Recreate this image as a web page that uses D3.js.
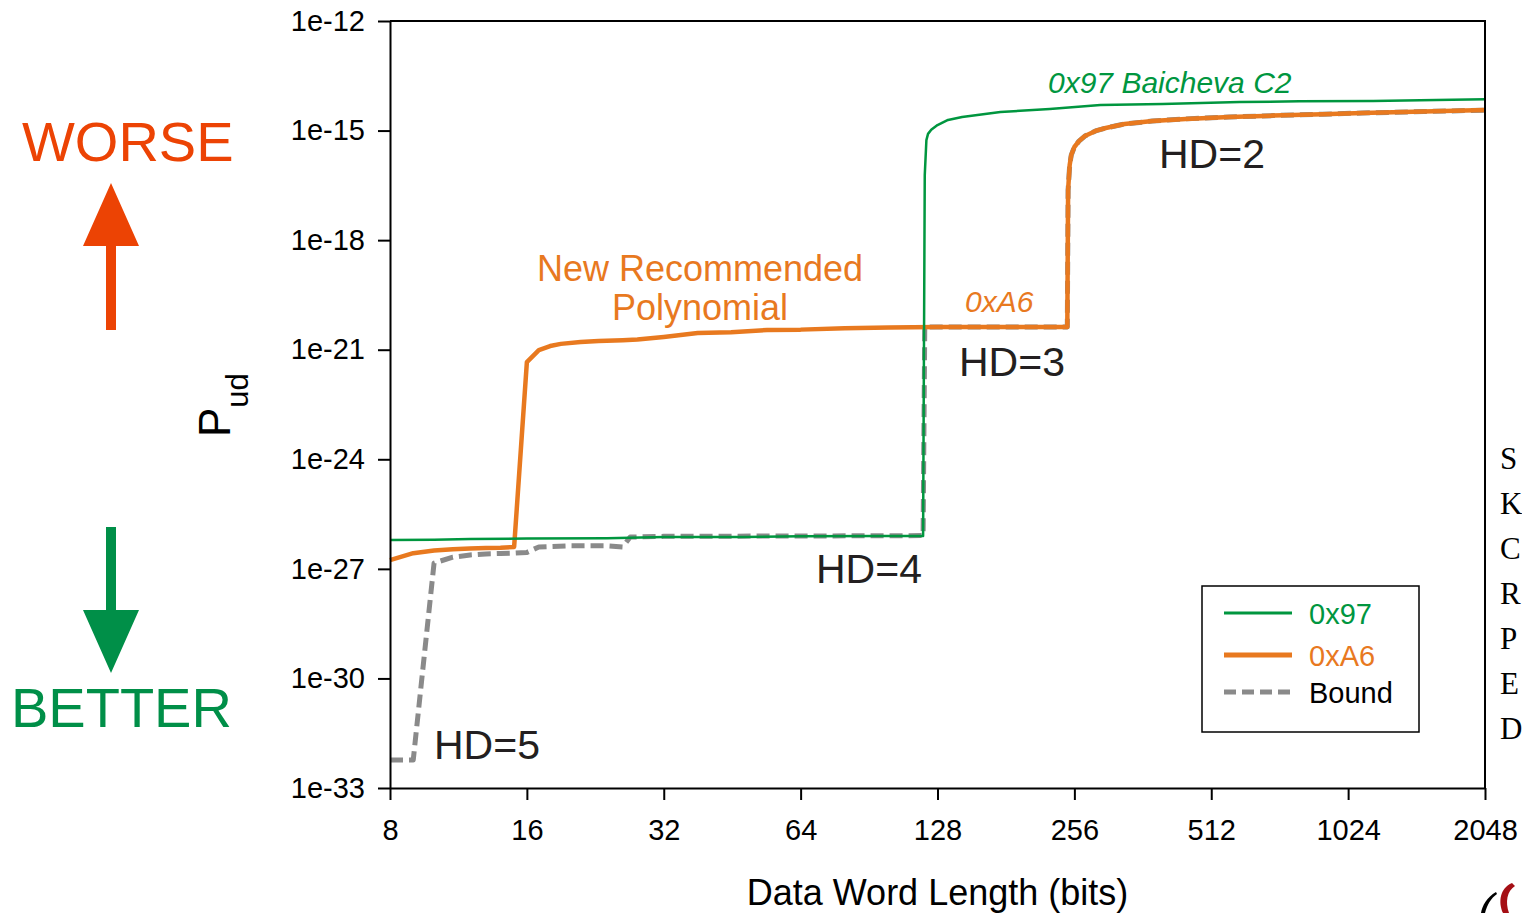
<!DOCTYPE html>
<html>
<head>
<meta charset="utf-8">
<script src="https://cdn.jsdelivr.net/npm/d3@7/dist/d3.min.js"></script>
<style>
  html, body { margin: 0; padding: 0; background: #fff; overflow: hidden; }
  svg { display: block; font-family: "Liberation Sans", Arial, Helvetica, sans-serif; }
</style>
</head>
<body>
<svg id="chart" width="1522" height="913"></svg>
<script>
// ---- Data: data word length (bits) vs. log10 of undetected error probability ----

// 0x97 (Baicheva C2)
const lenX97 = [8, 10, 12, 16, 24, 32, 48, 64, 96, 119,
                120, 121, 122, 124, 128, 135, 145, 176, 226, 292, 400, 591, 800, 1162, 1600, 2048];
const logPudX97 = [-26.21, -26.20, -26.18, -26.17, -26.16, -26.13, -26.13, -26.11, -26.10, -26.10,
                   -16.22, -15.26, -15.09, -14.98, -14.85, -14.71, -14.63, -14.49, -14.41, -14.30, -14.27, -14.22, -14.20, -14.19, -14.16, -14.14];

// 0xA6 (new recommended polynomial)
const lenXA6 = [8, 9, 10, 11, 12, 13, 14, 15,
                16, 17, 18, 19, 21, 23, 26, 28, 32, 38, 45, 54, 64, 80, 100, 128, 180, 247,
                248, 250, 252, 256, 262, 270, 285, 300, 330, 380, 450, 560, 700, 900, 1100, 1500, 2048];
const logPudXA6 = [-26.76, -26.57, -26.50, -26.46, -26.44, -26.43, -26.42, -26.40,
                   -21.34, -21.01, -20.90, -20.84, -20.79, -20.76, -20.74, -20.72, -20.65, -20.54, -20.52, -20.46, -20.45, -20.41, -20.39, -20.38, -20.38, -20.38,
                   -16.63, -15.94, -15.67, -15.45, -15.29, -15.15, -15.01, -14.93, -14.82, -14.74, -14.68, -14.63, -14.59, -14.55, -14.52, -14.48, -14.44];

// Best achievable bound over all 8-bit polynomials
const lenBound = [8, 9, 10, 11, 12, 13, 14, 15, 16, 17, 20, 24, 26, 27, 32, 64, 119,
                  120, 247,
                  248, 250, 252, 256, 262, 270, 285, 300, 330, 380, 450, 560, 700, 900, 1100, 1500, 2048];
const logPudBound = [-32.23, -32.23, -26.84, -26.68, -26.62, -26.59, -26.58, -26.57, -26.55, -26.40, -26.37, -26.37, -26.40, -26.13, -26.11, -26.10, -26.09,
                     -20.38, -20.38,
                     -16.63, -15.94, -15.67, -15.45, -15.29, -15.15, -15.01, -14.93, -14.82, -14.74, -14.68, -14.63, -14.59, -14.55, -14.52, -14.48, -14.44];

// Axis ticks
const xTicks = [8, 16, 32, 64, 128, 256, 512, 1024, 2048];
const xTickLabels = ["8", "16", "32", "64", "128", "256", "512", "1024", "2048"];
const yTicks = [1e-12, 1e-15, 1e-18, 1e-21, 1e-24, 1e-27, 1e-30, 1e-33];
const yTickLabels = ["1e-12", "1e-15", "1e-18", "1e-21", "1e-24", "1e-27", "1e-30", "1e-33"];

// ---- Layout & scales ----
const plot = { left: 390, right: 1485, top: 21, bottom: 788 };
const GREEN = "#00963f", ORANGE = "#e8791f", GRAY = "#8a8a8a", DARK = "#231f20";

const svg = d3.select("#chart");
const x = d3.scaleLog().base(2).domain([8, 2048]).range([plot.left, plot.right]);
const y = d3.scaleLog().domain([1e-33, 1e-12]).range([plot.bottom, plot.top]);

const series = [
  { name: "Bound", len: lenBound, logp: logPudBound, color: GRAY,   width: 5,   dash: "13,6", label: "#000" },
  { name: "0xA6",  len: lenXA6,   logp: logPudXA6,   color: ORANGE, width: 4.5, dash: null,   label: ORANGE },
  { name: "0x97",  len: lenX97,   logp: logPudX97,   color: GREEN,  width: 2.5, dash: null,   label: GREEN }
];

const line = d3.line()
  .x(d => x(d[0]))
  .y(d => y(Math.pow(10, d[1])));

// ---- Series lines ----
svg.append("g").selectAll("path")
  .data(series)
  .join("path")
  .attr("d", s => line(s.len.map((n, i) => [n, s.logp[i]])))
  .attr("fill", "none")
  .attr("stroke", s => s.color)
  .attr("stroke-width", s => s.width)
  .attr("stroke-dasharray", s => s.dash)
  .attr("stroke-linejoin", "round");

// ---- Axes ----
const xAxis = svg.append("g")
  .attr("transform", `translate(0,${plot.bottom})`)
  .call(d3.axisBottom(x).tickValues(xTicks).tickFormat((d, i) => xTickLabels[i])
        .tickSize(12).tickSizeOuter(0).tickPadding(19));
const yAxis = svg.append("g")
  .attr("transform", `translate(${plot.left},0)`)
  .call(d3.axisLeft(y).tickValues(yTicks).tickFormat((d, i) => yTickLabels[i])
        .tickSize(12).tickSizeOuter(0).tickPadding(13));

[xAxis, yAxis].forEach(g => {
  g.selectAll("path.domain").attr("stroke", "#000").attr("stroke-width", 2);
  g.selectAll(".tick line").attr("stroke", "#000").attr("stroke-width", 2);
  g.selectAll(".tick text").attr("fill", "#000").attr("font-size", 29)
    .attr("font-family", "'Liberation Sans', Arial, sans-serif");
});

// Frame: top and right edges
svg.append("path")
  .attr("d", `M${plot.left},${plot.top}H${plot.right}V${plot.bottom}`)
  .attr("fill", "none").attr("stroke", "#000").attr("stroke-width", 2);

// Axis titles
svg.append("text")
  .attr("x", (plot.left + plot.right) / 2).attr("y", 905)
  .attr("text-anchor", "middle").attr("font-size", 36).attr("fill", "#000")
  .text("Data Word Length (bits)");

const yTitle = svg.append("text")
  .attr("transform", "translate(230,437) rotate(-90)")
  .attr("fill", "#000");
yTitle.append("tspan").attr("font-size", 44).text("P");
yTitle.append("tspan").attr("font-size", 31).attr("dy", 18).text("ud");

// ---- Annotations ----
const hdLabels = [
  { t: "HD=2", x: 1159, y: 168 },
  { t: "HD=3", x: 959,  y: 376 },
  { t: "HD=4", x: 816,  y: 583 },
  { t: "HD=5", x: 434,  y: 759 }
];
svg.append("g").selectAll("text").data(hdLabels).join("text")
  .attr("x", d => d.x).attr("y", d => d.y)
  .attr("font-size", 41).attr("fill", DARK)
  .text(d => d.t);

svg.append("text").attr("x", 1048).attr("y", 93)
  .attr("font-size", 30).attr("font-style", "italic").attr("fill", GREEN)
  .text("0x97 Baicheva C2");
svg.append("text").attr("x", 965).attr("y", 312)
  .attr("font-size", 30).attr("font-style", "italic").attr("fill", ORANGE)
  .text("0xA6");

const rec = svg.append("text").attr("text-anchor", "middle")
  .attr("font-size", 36).attr("fill", ORANGE);
rec.append("tspan").attr("x", 700).attr("y", 281).text("New Recommended");
rec.append("tspan").attr("x", 700).attr("y", 320).text("Polynomial");

// ---- Legend ----
const legend = svg.append("g");
legend.append("rect")
  .attr("x", 1202).attr("y", 586).attr("width", 217).attr("height", 146)
  .attr("fill", "#fff").attr("stroke", "#000").attr("stroke-width", 1.5);
const legendOrder = [series[2], series[1], series[0]];
const rowY = [613, 655, 692];
legendOrder.forEach((s, i) => {
  legend.append("line")
    .attr("x1", 1224).attr("x2", 1292).attr("y1", rowY[i]).attr("y2", rowY[i])
    .attr("stroke", s.color).attr("stroke-width", s.name === "0x97" ? 3 : 5)
    .attr("stroke-dasharray", s.dash ? "12,6" : null);
  legend.append("text")
    .attr("x", 1309).attr("y", rowY[i] + 11)
    .attr("font-size", 29).attr("fill", s.label)
    .text(s.name);
});

// ---- Better / worse indicators ----
const RED = "#ec4304", BGREEN = "#008f48";
svg.append("text").attr("x", 22).attr("y", 161)
  .attr("font-size", 56).attr("fill", RED).text("WORSE");
svg.append("path")
  .attr("d", "M106,330V246H83L111,183L139,246H116V330Z")
  .attr("fill", RED);
svg.append("path")
  .attr("d", "M106,527V610H83L111,673L139,610H116V527Z")
  .attr("fill", BGREEN);
svg.append("text").attr("x", 11).attr("y", 727)
  .attr("font-size", 56).attr("fill", BGREEN).text("BETTER");

// ---- Side note initials along the right edge ----
const note = ["S", "K", "C", "R", "P", "E", "D"];
svg.append("g").selectAll("text").data(note).join("text")
  .attr("x", 1500).attr("y", (d, i) => 469 + i * 45)
  .attr("font-family", "'Liberation Serif', 'Times New Roman', serif")
  .attr("font-size", 31).attr("fill", "#000")
  .text(d => d);

// Logo fragment at the bottom-right corner
svg.append("path")
  .attr("d", "M1512,883C1500,888 1498,902 1503,913H1509C1505,902 1507,891 1515,886Z")
  .attr("fill", "#a50f15");
svg.append("path")
  .attr("d", "M1496,892C1487,897 1482,906 1481,913H1485C1487,905 1491,898 1497,894Z")
  .attr("fill", "#000");
</script>
</body>
</html>
